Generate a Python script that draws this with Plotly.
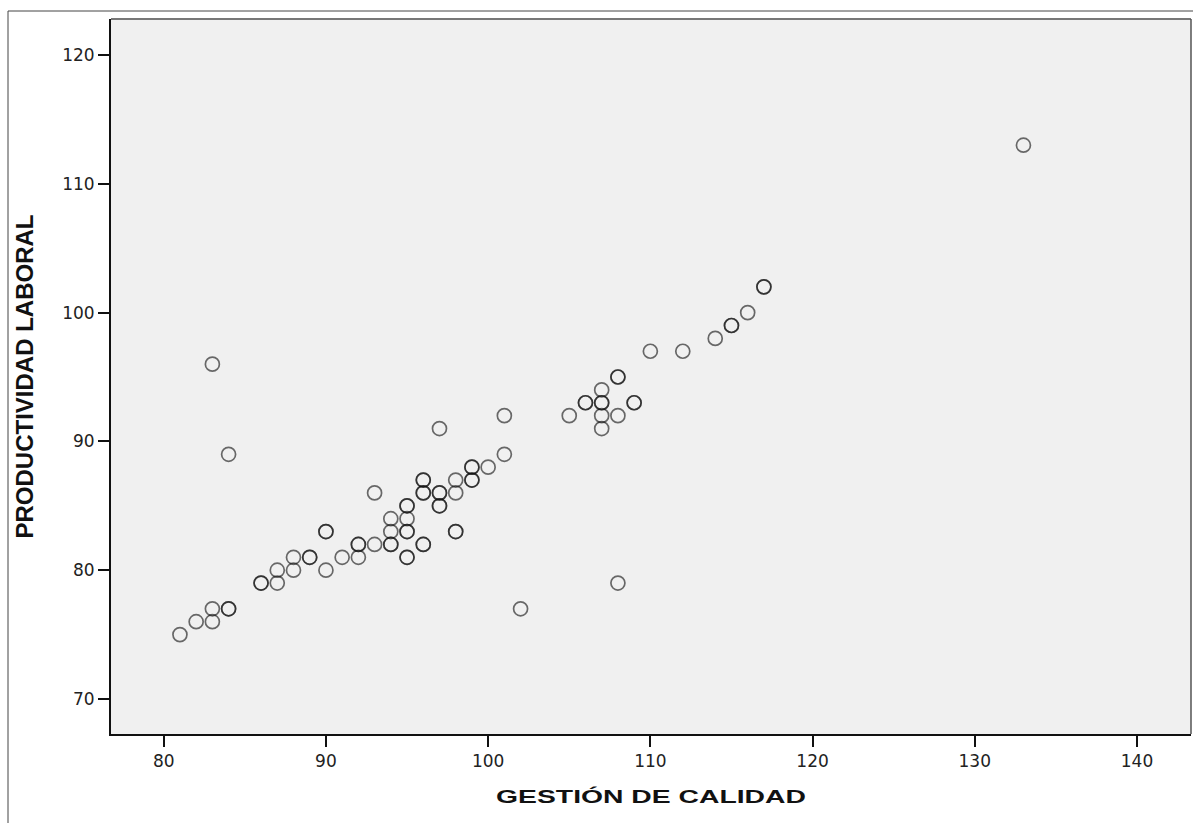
import plotly.graph_objects as go

# GESTIÓN DE CALIDAD (x) vs PRODUCTIVIDAD LABORAL (y); repeated pairs are overlapping cases
gestion = [81, 82, 83, 83, 84, 84, 83, 84, 86, 86, 87, 87, 88, 88, 89, 89, 90, 90, 90,
           91, 92, 92, 92, 93, 93, 94, 94, 94, 94, 95, 95, 95, 95, 95, 95, 95,
           96, 96, 96, 96, 96, 96, 97, 97, 97, 97, 97, 98, 98, 98, 98,
           99, 99, 99, 99, 100, 101, 101, 102, 105, 106, 106, 107, 107, 107, 107, 107,
           108, 108, 108, 108, 109, 109, 110, 112, 114, 115, 115, 116, 117, 117, 133]
productividad = [75, 76, 76, 77, 77, 77, 96, 89, 79, 79, 79, 80, 80, 81, 81, 81, 80, 83, 83,
                 81, 81, 82, 82, 82, 86, 82, 82, 83, 84, 81, 81, 83, 83, 84, 85, 85,
                 82, 82, 86, 86, 87, 87, 85, 85, 86, 86, 91, 83, 83, 86, 87,
                 87, 87, 88, 88, 88, 89, 92, 77, 92, 93, 93, 91, 92, 93, 93, 94,
                 92, 95, 95, 79, 93, 93, 97, 97, 98, 99, 99, 100, 102, 102, 113]

x_ticks = [80, 90, 100, 110, 120, 130, 140]
y_ticks = [70, 80, 90, 100, 110, 120]

fig = go.Figure()
fig.add_trace(go.Scatter(
    x=gestion, y=productividad, mode="markers",
    marker=dict(symbol="circle-open", size=14,
                line=dict(width=1.7, color="rgba(20,20,20,0.62)"),
                color="rgba(20,20,20,0.62)"),
    showlegend=False, hoverinfo="x+y"))

W, H = 1193, 823
L, R, T, B = 111, 2, 19, 89

axis_common = dict(showgrid=False, zeroline=False, ticks="outside", ticklen=11,
                   tickwidth=1.5, tickcolor="#111", showline=True, linecolor="#111",
                   linewidth=1.8, tickfont=dict(family="DejaVu Sans", size=17, color="#222"))

fig.update_layout(
    width=W, height=H,
    margin=dict(l=L, r=R, t=T, b=B, autoexpand=False),
    paper_bgcolor="white", plot_bgcolor="#F0F0F0",
    xaxis=dict(range=[76.75, 143.33], tickvals=x_ticks, **axis_common,
               title=dict(text="GESTIÓN DE CALIDAD", standoff=20,
                          font=dict(family="Liberation Sans", size=18.5, color="#111", weight="bold"))),
    yaxis=dict(range=[67.28, 122.8], tickvals=y_ticks, **axis_common,
               title=dict(text="PRODUCTIVIDAD LABORAL", standoff=22,
                          font=dict(family="Liberation Sans", size=24, color="#111", weight="bold"))),
    shapes=[
        # top and right frame of plot area
        dict(type="line", xref="paper", yref="paper", x0=0, x1=1, y0=1, y1=1,
             line=dict(color="#777", width=2)),
        dict(type="line", xref="paper", yref="paper", x0=1, x1=1, y0=0, y1=1,
             line=dict(color="#555", width=1.5)),
        # outer chart frame
        dict(type="rect", xref="paper", yref="paper",
             x0=(8 - L) / (W - L - R), x1=(W + 20 - L) / (W - L - R),
             y0=-(H + 20 - T - (H - T - B)) / (H - T - B) - 0.05, y1=1 + (T - 11) / (H - T - B),
             line=dict(color="#444", width=1)),
    ],
)

# widen the x-axis title horizontally, as in the original rendering
stretch_js = """
var t = document.querySelector('.g-xtitle text');
if (t) {
  var bb = t.getBBox();
  var s = 310 / bb.width;
  var cx = bb.x + bb.width / 2;
  var prev = t.getAttribute('transform') || '';
  t.setAttribute('transform', prev + ' translate(' + cx + ',0) scale(' + s + ',1) translate(' + (-cx) + ',0)');
}
"""

fig.write_html("out.html", post_script=stretch_js)
